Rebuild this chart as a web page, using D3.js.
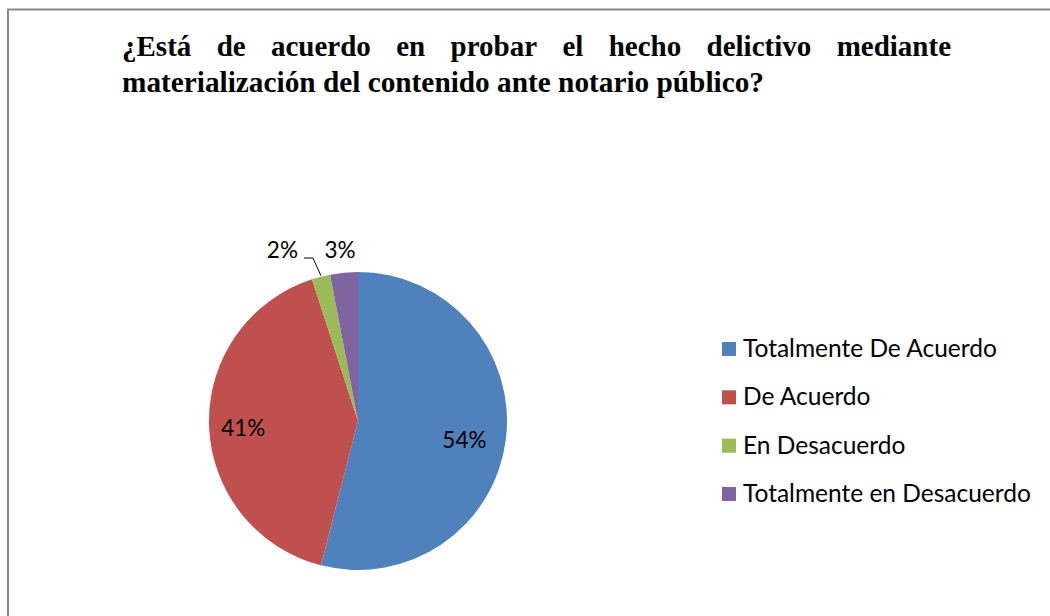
<!DOCTYPE html>
<html lang="es">
<head>
<meta charset="UTF-8">
<title>Pie</title>
<script src="https://cdn.jsdelivr.net/npm/d3@7"></script>
<style>
  html,body{margin:0;padding:0;background:#fff;}
  svg{display:block;}
</style>
</head>
<body>
<div id="chart"></div>
<script>
// data
var categories = ["Totalmente De Acuerdo", "De Acuerdo", "En Desacuerdo", "Totalmente en Desacuerdo"];
var values = [54, 41, 2, 3];
var colors = ["#4F81BD", "#C0504D", "#9BBB59", "#8064A2"];
var titleLines = ["¿Está de acuerdo en probar el hecho delictivo mediante",
                  "materialización del contenido ante notario público?"];

var W = 1050, H = 616;
var svg = d3.select("#chart").append("svg").attr("width", W).attr("height", H);

// frame
svg.append("path")
  .attr("d", "M8," + H + "V9.5H" + W)
  .attr("fill", "none").attr("stroke", "#888").attr("stroke-width", 2);

// title (first line justified)
var tf = "bold 29px 'Liberation Serif', 'Times New Roman', serif";
var tLeft = 122, tRight = 951;
var t = svg.append("g").style("font", tf).attr("fill", "#000");
var words = titleLines[0].split(" ");
var tmp = t.selectAll(".w").data(words).join("text").attr("class", "w").text(d => d);
var widths = [];
tmp.each(function(){ widths.push(this.getComputedTextLength()); });
var gap = (tRight - tLeft - d3.sum(widths)) / (words.length - 1);
var xx = tLeft;
tmp.attr("y", 56).attr("x", function(d, i){ var x0 = xx; xx += widths[i] + gap; return x0; });
t.append("text").attr("x", tLeft).attr("y", 92)
  .attr("textLength", 642).attr("lengthAdjust", "spacingAndGlyphs")
  .text(titleLines[1]);

// pie
var cx = 358, cy = 421, r = 149;
var pie = d3.pie().sort(null).value(d => d);
var arcs = pie(values);
var arc = d3.arc().innerRadius(0).outerRadius(r);
var g = svg.append("g").attr("transform", "translate(" + cx + "," + cy + ")");
g.selectAll("path").data(arcs).join("path")
  .attr("d", arc).attr("fill", (d, i) => colors[i]);

// labels
var lf = "22.5px Lato, 'Open Sans', sans-serif";
var fmt = d => d + "%";
var inner = [{i: 0, k: 0.72, dy: 14}, {i: 1, k: 0.77, dy: 11}];
inner.forEach(function(o){
  var a = arcs[o.i], m = (a.startAngle + a.endAngle) / 2;
  g.append("text")
    .attr("x", Math.sin(m) * r * o.k)
    .attr("y", -Math.cos(m) * r * o.k + o.dy)
    .attr("text-anchor", "middle").style("font", lf).attr("fill", "#000")
    .text(fmt(values[o.i]));
});
// outside labels for the small slices
var yOut = -163;
var aG = arcs[2], mG = (aG.startAngle + aG.endAngle) / 2;
var pG = [Math.sin(mG) * r, -Math.cos(mG) * r];
g.append("polyline")
  .attr("points", [[pG[0], pG[1] - 1], [pG[0] - 8, yOut], [pG[0] - 17, yOut]].join(" "))
  .attr("fill", "none").attr("stroke", "#000").attr("stroke-width", 1);
g.append("text").attr("x", pG[0] - 23).attr("y", yOut)
  .attr("text-anchor", "end").style("font", lf).text(fmt(values[2]));
var aP = arcs[3], mP = (aP.startAngle + aP.endAngle) / 2;
g.append("text").attr("x", Math.sin(mP) * r - 4).attr("y", yOut)
  .attr("text-anchor", "middle").style("font", lf).text(fmt(values[3]));

// legend
var lgf = "24.5px Lato, 'Open Sans', sans-serif";
var ly = d3.scalePoint().domain(categories).range([349, 494]);
var lg = svg.append("g").selectAll("g").data(categories).join("g")
  .attr("transform", d => "translate(722," + ly(d) + ")");
lg.append("rect").attr("x", 0).attr("y", -7).attr("width", 14).attr("height", 14)
  .attr("fill", (d, i) => colors[i]);
lg.append("text").attr("x", 21).attr("y", 8)
  .style("font", lgf).attr("fill", "#000").text(d => d);
</script>
</body>
</html>
